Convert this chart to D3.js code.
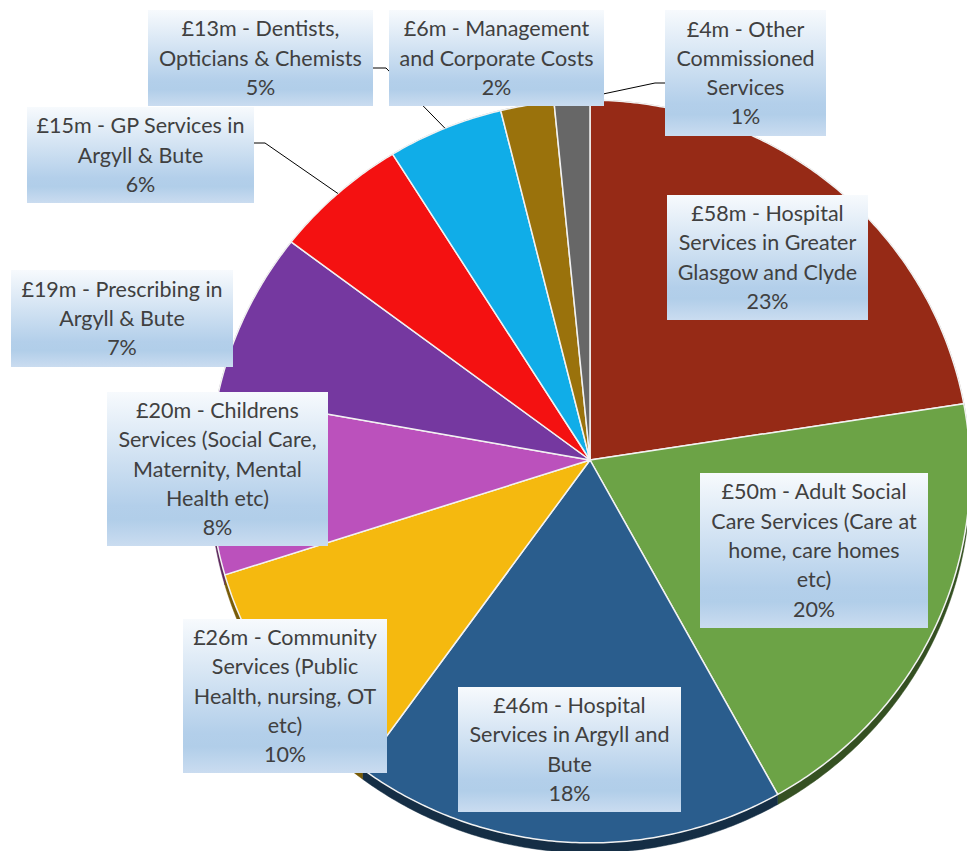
<!DOCTYPE html>
<meta charset="utf-8">
<style>
	body {
		margin:			0px;
		background:		#ffffff;
	}
	svg {
		display:		block;
	}
	.label text {
		font-family:	Lato, "Open Sans", sans-serif;
		font-size:		21.5px;
		fill:			#404040;
	}
</style>
<body>
<script src="https://d3js.org/d3.v7.min.js"></script>
<script>

	//Spending by service, clockwise from 12 o'clock
	var services = [
		"Hospital Services in Greater Glasgow and Clyde",
		"Adult Social Care Services (Care at home, care homes etc)",
		"Hospital Services in Argyll and Bute",
		"Community Services (Public Health, nursing, OT etc)",
		"Childrens Services (Social Care, Maternity, Mental Health etc)",
		"Prescribing in Argyll & Bute",
		"GP Services in Argyll & Bute",
		"Dentists, Opticians & Chemists",
		"Management and Corporate Costs",
		"Other Commissioned Services"
	];
	//£ millions
	var amounts = [58, 50, 46, 26, 20, 19, 15, 13, 6, 4];
	//Percentages as printed on the chart
	var shares = ["23%", "20%", "18%", "10%", "8%", "7%", "6%", "5%", "2%", "1%"];
	//Label text as it wraps in the boxes
	var labelLines = [
		["£58m - Hospital", "Services in Greater", "Glasgow and Clyde"],
		["£50m - Adult Social", "Care Services (Care at", "home, care homes", "etc)"],
		["£46m - Hospital", "Services in Argyll and", "Bute"],
		["£26m - Community", "Services (Public", "Health, nursing, OT", "etc)"],
		["£20m - Childrens", "Services (Social Care,", "Maternity, Mental", "Health etc)"],
		["£19m - Prescribing in", "Argyll & Bute"],
		["£15m - GP Services in", "Argyll & Bute"],
		["£13m - Dentists,", "Opticians & Chemists"],
		["£6m - Management", "and Corporate Costs"],
		["£4m - Other", "Commissioned", "Services"]
	];

	var colours = ["#962a16", "#6ca346", "#2a5d8d", "#f5b90f", "#bb51bc",
				   "#7538a0", "#f41111", "#10ade8", "#9a720c", "#676767"];

	//Label boxes: x, y, width, height
	var boxes = [
		[667, 195, 201, 125],
		[700, 473, 228, 155],
		[458, 687, 223, 125],
		[183, 619, 204, 154],
		[107, 392, 221, 154],
		[11, 270, 222, 97],
		[27, 107, 227, 96],
		[148, 10, 225, 96],
		[389, 10, 215, 96],
		[665, 10, 161, 126]
	];
	//Leader lines: slice index, anchor on box, elbow
	var leaders = [
		[6, [254, 143], [265, 143]],
		[7, [373, 68], [386, 68]],
		[9, [665, 83], [655, 83]]
	];

	var width = 967,
		height = 851;

	//Tilted pie: centre, radii, perspective and side depth
	var cx = 590, cy = 460, rx = 380, ry = 371, persp = -0.031, depth = 10;

	//Projects an angle (clockwise from north) onto the tilted disc
	function project(theta, r) {
		r = r === undefined ? 1 : r;
		var u = Math.sin(theta) * r,
			v = -Math.cos(theta) * r,
			w = 1 + persp * v;
		return [cx + rx * u / w, cy + ry * v / w];
	}

	function arcPoints(a0, a1) {
		var n = Math.max(2, Math.ceil((a1 - a0) / 0.01));
		return d3.range(n + 1).map(function(i) { return project(a0 + (a1 - a0) * i / n); });
	}

	var pie = d3.pie().sort(null).value(function(d) { return d; });
	var arcs = pie(amounts);

	var line = d3.line();

	var svg = d3.select("body")
				.append("svg")
				.attr("width", width)
				.attr("height", height);

	var defs = svg.append("defs");
	var grad = defs.append("linearGradient")
					.attr("id", "boxGrad")
					.attr("x1", 0).attr("y1", 0)
					.attr("x2", 0).attr("y2", 1);
	grad.append("stop").attr("offset", "0%").attr("stop-color", "#f7fafd");
	grad.append("stop").attr("offset", "74%").attr("stop-color", "#b3cfea");
	grad.append("stop").attr("offset", "83%").attr("stop-color", "#b1cee9");
	grad.append("stop").attr("offset", "100%").attr("stop-color", "#cadcf0");

	//Sides of the disc, drawn first so the top hides the back
	svg.append("g")
		.selectAll("path")
		.data(arcs)
		.enter()
		.append("path")
		.attr("d", function(d) {
			var top = arcPoints(d.startAngle, d.endAngle);
			var bottom = top.map(function(p) { return [p[0], p[1] + depth]; }).reverse();
			return line(top.concat(bottom)) + "Z";
		})
		.attr("fill", function(d, i) { return d3.color(colours[i]).darker(2); })
		.attr("stroke", function(d, i) { return d3.color(colours[i]).darker(2); })
		.attr("stroke-width", 0.5);

	//Top faces
	svg.append("g")
		.selectAll("path")
		.data(arcs)
		.enter()
		.append("path")
		.attr("d", function(d) {
			return line([[cx, cy]].concat(arcPoints(d.startAngle, d.endAngle))) + "Z";
		})
		.attr("fill", function(d, i) { return colours[i]; })
		.attr("stroke", "#f2f2f2")
		.attr("stroke-width", 1.5)
		.attr("stroke-linejoin", "round");

	//Leader lines
	svg.append("g")
		.selectAll("path")
		.data(leaders)
		.enter()
		.append("path")
		.attr("d", function(d) {
			var a = arcs[d[0]];
			var end = project((a.startAngle + a.endAngle) / 2);
			return line([d[1], d[2], end]);
		})
		.attr("fill", "none")
		.attr("stroke", "#000000")
		.attr("stroke-width", 1);

	//Data label boxes
	var label = svg.append("g")
					.selectAll("g")
					.data(services)
					.enter()
					.append("g")
					.attr("class", "label");

	label.append("rect")
		.attr("x", function(d, i) { return boxes[i][0]; })
		.attr("y", function(d, i) { return boxes[i][1]; })
		.attr("width", function(d, i) { return boxes[i][2]; })
		.attr("height", function(d, i) { return boxes[i][3]; })
		.attr("fill", "url(#boxGrad)");

	label.each(function(d, i) {
		var lines = labelLines[i].concat([shares[i]]);
		var b = boxes[i];
		var lh = 29.3;
		var top = b[1] + (b[3] - lines.length * lh) / 2;
		d3.select(this)
			.selectAll("text")
			.data(lines)
			.enter()
			.append("text")
			.attr("x", b[0] + b[2] / 2)
			.attr("y", function(t, j) { return top + lh * j + lh / 2 + 7.5; })
			.attr("text-anchor", "middle")
			.text(function(t) { return t; });
	});

</script>
</body>
